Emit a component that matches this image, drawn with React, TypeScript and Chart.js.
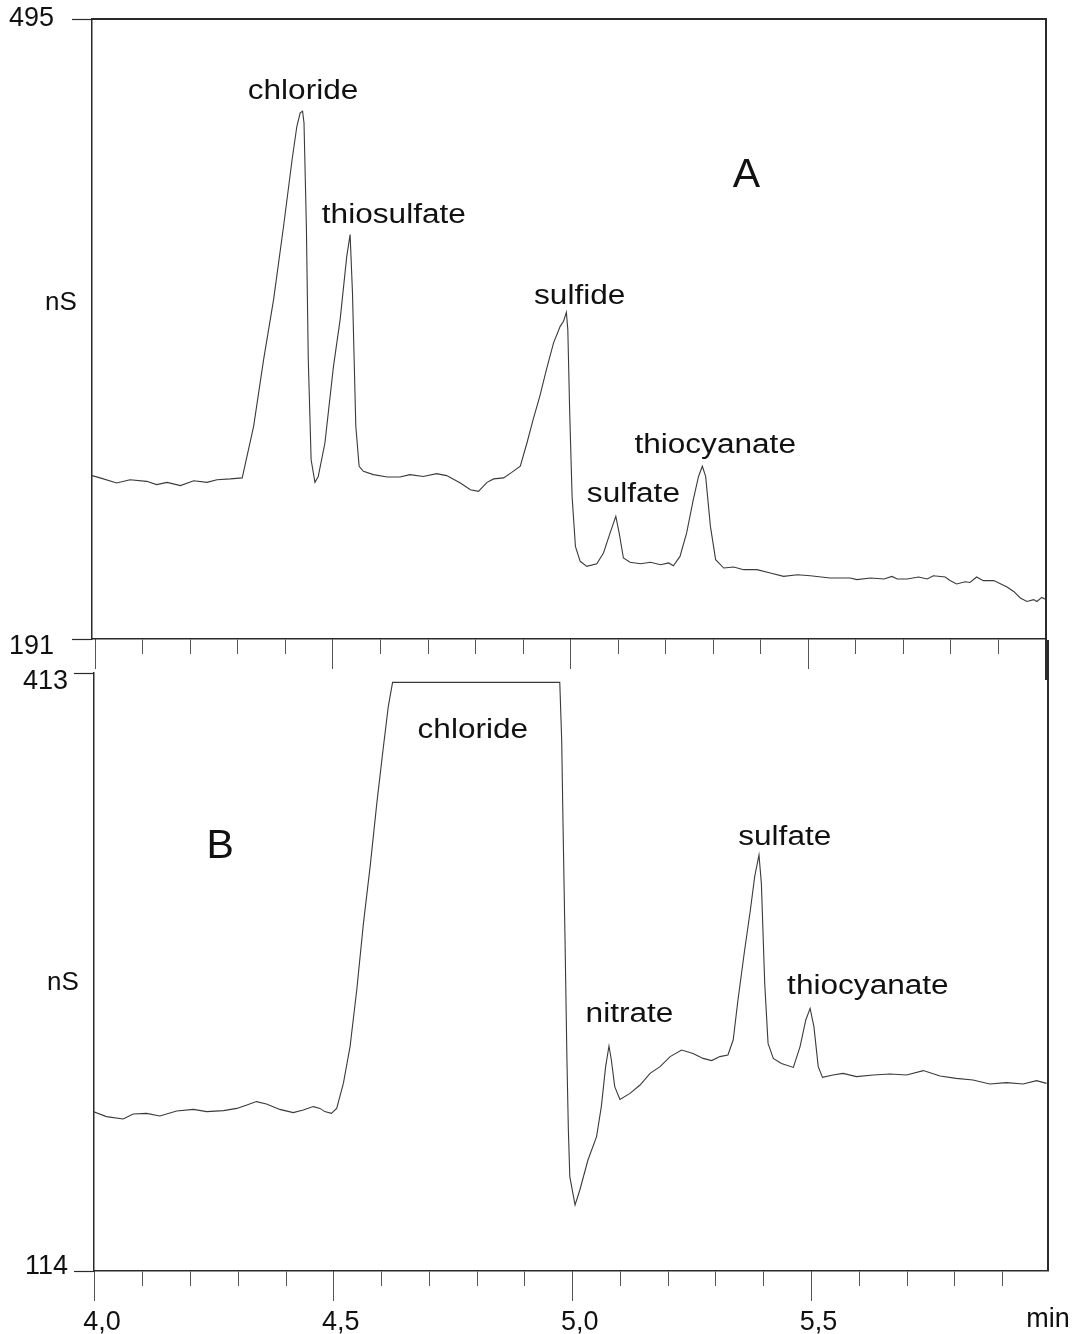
import React, { useEffect, useRef } from "react";
import { Chart, registerables } from "chart.js";

Chart.register(...registerables);

// ---------------- data ----------------
// Panel A: retention time (min) and conductivity (nS)
const timeA = [
  3.993, 4.010, 4.045, 4.073, 4.108, 4.129, 4.151, 4.179, 4.207, 4.235,
  4.256, 4.284, 4.309, 4.333, 4.354, 4.375, 4.396, 4.414, 4.424, 4.431,
  4.436, 4.439, 4.444, 4.448, 4.454, 4.462, 4.469, 4.483, 4.501, 4.515,
  4.529, 4.536, 4.541, 4.548, 4.555, 4.564, 4.585, 4.614, 4.641, 4.662,
  4.690, 4.718, 4.739, 4.768, 4.789, 4.806, 4.824, 4.838, 4.859, 4.876,
  4.894, 4.908, 4.921, 4.935, 4.949, 4.964, 4.978, 4.985, 4.991, 4.994,
  4.998, 5.003, 5.010, 5.020, 5.034, 5.055, 5.069, 5.083, 5.095, 5.102,
  5.111, 5.125, 5.147, 5.168, 5.189, 5.206, 5.216, 5.230, 5.244, 5.258,
  5.269, 5.277, 5.284, 5.294, 5.305, 5.322, 5.343, 5.364, 5.392, 5.420,
  5.448, 5.477, 5.504, 5.546, 5.588, 5.602, 5.631, 5.659, 5.676, 5.687,
  5.708, 5.732, 5.750, 5.763, 5.788, 5.798, 5.812, 5.830, 5.840, 5.854,
  5.868, 5.890, 5.904, 5.918, 5.932, 5.946, 5.960, 5.974, 5.981, 5.991,
  5.998,
];
const signalA = [
  271.1, 270.0, 267.5, 269.1, 268.3, 266.7, 267.8, 266.2, 268.6, 267.8,
  269.1, 269.5, 270.0, 295.3, 328.0, 357.4, 393.4, 426.1, 442.4, 449.0,
  449.8, 444.1, 393.4, 328.0, 278.9, 267.8, 270.7, 287.1, 324.7, 347.6,
  378.7, 389.3, 360.7, 295.3, 275.7, 273.2, 271.6, 270.4, 270.4, 271.6,
  270.7, 272.1, 271.1, 267.5, 264.2, 263.4, 267.8, 269.5, 270.0, 272.7,
  275.7, 287.1, 298.6, 310.0, 323.1, 336.2, 344.3, 346.8, 351.2, 342.7,
  301.8, 260.9, 236.4, 229.1, 226.6, 227.9, 233.2, 243.0, 251.1, 243.0,
  230.7, 228.6, 227.9, 228.6, 227.4, 228.3, 226.9, 231.5, 243.0, 259.3,
  270.7, 275.7, 270.7, 246.2, 229.9, 225.8, 226.3, 225.0, 225.0, 223.4,
  221.7, 222.5, 222.0, 220.9, 220.9, 220.1, 220.9, 220.4, 221.7, 220.4,
  220.4, 221.4, 220.4, 222.0, 221.4, 219.7, 218.0, 219.1, 218.7, 221.4,
  219.6, 219.7, 218.1, 216.5, 214.3, 211.1, 209.4, 210.3, 209.4, 211.4,
  210.6,
];

// Panel B
const timeB = [
  3.996, 4.024, 4.059, 4.080, 4.108, 4.136, 4.171, 4.206, 4.234, 4.269,
  4.297, 4.318, 4.338, 4.359, 4.387, 4.415, 4.436, 4.457, 4.471, 4.481,
  4.495, 4.506, 4.520, 4.534, 4.548, 4.562, 4.576, 4.590, 4.603, 4.614,
  4.623, 4.973, 4.977, 4.980, 4.984, 4.988, 4.991, 4.994, 5.005, 5.015,
  5.032, 5.050, 5.060, 5.069, 5.076, 5.081, 5.088, 5.099, 5.120, 5.141,
  5.162, 5.183, 5.204, 5.228, 5.252, 5.273, 5.291, 5.308, 5.325, 5.336,
  5.346, 5.360, 5.372, 5.381, 5.390, 5.395, 5.402, 5.409, 5.420, 5.437,
  5.462, 5.476, 5.488, 5.497, 5.505, 5.514, 5.523, 5.545, 5.566, 5.594,
  5.629, 5.664, 5.699, 5.734, 5.769, 5.803, 5.838, 5.873, 5.908, 5.943,
  5.971, 5.992,
];
const signalB = [
  193.7, 191.2, 190.0, 192.5, 192.8, 191.5, 194.0, 194.8, 193.7, 194.2,
  195.3, 197.0, 198.7, 197.5, 194.8, 193.2, 194.5, 196.2, 195.3, 193.7,
  192.8, 195.3, 207.8, 226.2, 254.5, 287.8, 316.2, 347.8, 374.5, 396.2,
  408.3, 408.3, 379.5, 334.5, 279.5, 219.5, 184.5, 161.2, 147.0, 154.5,
  169.5, 181.2, 196.2, 216.2, 226.5, 219.5, 206.2, 199.8, 202.8, 207.0,
  212.8, 216.2, 221.2, 224.5, 222.8, 220.3, 219.2, 221.2, 222.0, 229.5,
  249.5, 274.5, 294.5, 311.2, 322.0, 307.8, 257.8, 227.8, 220.3, 217.8,
  215.8, 226.2, 239.5, 245.3, 236.2, 216.2, 210.8, 212.0, 212.8, 211.2,
  212.0, 212.5, 212.0, 214.2, 211.5, 210.3, 209.5, 207.5, 208.2, 207.5,
  209.2, 207.8,
];

// tick values
const minorTicks = [4.0, 4.1, 4.2, 4.3, 4.4, 4.5, 4.6, 4.7, 4.8, 4.9, 5.0, 5.1, 5.2, 5.3, 5.4, 5.5, 5.6, 5.7, 5.8, 5.9];
const majorTicks = [4.0, 4.5, 5.0, 5.5];
const yTicksA = [191, 495];
const yTicksB = [114, 413];

// peak names
const peakNamesA = ["chloride", "thiosulfate", "sulfide", "sulfate", "thiocyanate"];
const peakNamesB = ["chloride", "nitrate", "sulfate", "thiocyanate"];

// ---------------- styling / layout ----------------
const FONT = "'Liberation Sans', Arial, Helvetica, sans-serif";
const INK = "#111111";
const AXIS = "#2a2a2a";
const TRACE = "#3a3a3a";
const TICK = "#555555";

type Ann = { text: string; t: number; v: number };

const labelsA: Ann[] = [
  { text: peakNamesA[0], t: 4.437, v: 455.9 },
  { text: peakNamesA[1], t: 4.628, v: 395.0 },
  { text: peakNamesA[2], t: 5.019, v: 355.5 },
  { text: peakNamesA[3], t: 5.132, v: 258.0 },
  { text: peakNamesA[4], t: 5.304, v: 282.4 },
];
const labelsB: Ann[] = [
  { text: peakNamesB[0], t: 4.791, v: 380.3 },
  { text: peakNamesB[1], t: 5.119, v: 238.3 },
  { text: peakNamesB[2], t: 5.444, v: 327.0 },
  { text: peakNamesB[3], t: 5.618, v: 252.5 },
];

type PanelSpec = {
  times: number[];
  values: number[];
  xMin: number;
  xMax: number;
  yMin: number;
  yMax: number;
  yTicks: number[];
  yShift: Record<number, number>;
  yPad: number;
  leftWidth: number;
  padTop: number;
  padRight: number;
  xHeight: number;
  showXLabels: boolean;
  labels: Ann[];
  panel: Ann;
  nsValue: number;
  frameTop: boolean;
  rightFromCanvasTop: boolean;
  rightToCanvasBottom: boolean;
  unitLabel: boolean;
};

function drawText(
  ctx: CanvasRenderingContext2D,
  text: string,
  x: number,
  y: number,
  font: string,
  stretch: number
) {
  ctx.save();
  ctx.font = font;
  ctx.textAlign = "center";
  ctx.textBaseline = "alphabetic";
  ctx.fillStyle = INK;
  ctx.translate(x, y);
  ctx.scale(stretch, 1);
  ctx.fillText(text, 0, 0);
  ctx.restore();
}

function buildConfig(p: PanelSpec): any {
  const overlay = {
    id: "overlay",
    afterDraw(chart: any) {
      const { ctx, chartArea } = chart;
      const xs = chart.scales.x;
      const ys = chart.scales.y;
      ctx.save();
      ctx.strokeStyle = AXIS;
      ctx.lineWidth = 2;
      ctx.beginPath();
      if (p.frameTop) {
        ctx.moveTo(chartArea.left, chartArea.top);
        ctx.lineTo(chartArea.right, chartArea.top);
      }
      ctx.moveTo(chartArea.right, p.rightFromCanvasTop ? 0 : chartArea.top - 1);
      ctx.lineTo(chartArea.right, p.rightToCanvasBottom ? chart.height : chartArea.bottom);
      ctx.stroke();
      ctx.restore();

      p.labels.forEach((a) => {
        drawText(ctx, a.text, xs.getPixelForValue(a.t), ys.getPixelForValue(a.v), `27px ${FONT}`, 1.17);
      });
      drawText(ctx, p.panel.text, xs.getPixelForValue(p.panel.t), ys.getPixelForValue(p.panel.v), `41px ${FONT}`, 1);
      drawText(ctx, "nS", chartArea.left - 31, ys.getPixelForValue(p.nsValue), `26px ${FONT}`, 1);
      if (p.unitLabel) {
        drawText(ctx, "min", chartArea.right, chartArea.bottom + 56, `27px ${FONT}`, 1);
      }
    },
  };

  return {
    type: "line",
    data: {
      datasets: [
        {
          data: p.times.map((t, i) => ({ x: t, y: p.values[i] })),
          borderColor: TRACE,
          borderWidth: 1.1,
          pointRadius: 0,
          tension: 0,
          fill: false,
        },
      ],
    },
    options: {
      animation: false,
      responsive: false,
      devicePixelRatio: 1,
      events: [],
      layout: { padding: { top: p.padTop, right: p.padRight, left: 0, bottom: 0 } },
      plugins: { legend: { display: false }, tooltip: { enabled: false } },
      scales: {
        x: {
          type: "linear",
          position: "bottom",
          weight: 0,
          min: p.xMin,
          max: p.xMax,
          afterBuildTicks: (s: any) => {
            s.ticks = minorTicks.map((v) => ({ value: v }));
          },
          afterFit: (s: any) => {
            s.height = 0;
            s.paddingLeft = 0;
            s.paddingRight = 0;
          },
          ticks: { display: false },
          grid: { drawOnChartArea: false, drawTicks: true, tickLength: 15, tickColor: TICK, tickWidth: 1 },
          border: { display: true, color: AXIS, width: 1.5 },
        },
        xMajor: {
          type: "linear",
          position: "bottom",
          weight: 1,
          min: p.xMin,
          max: p.xMax,
          afterBuildTicks: (s: any) => {
            s.ticks = majorTicks.map((v) => ({ value: v }));
          },
          afterFit: (s: any) => {
            s.height = p.xHeight;
            s.paddingLeft = 0;
            s.paddingRight = 0;
          },
          ticks: {
            display: p.showXLabels,
            autoSkip: false,
            maxRotation: 0,
            minRotation: 0,
            padding: 5,
            labelOffset: 7,
            color: INK,
            font: { family: FONT, size: 27 },
            callback: (v: number) => Number(v).toFixed(1).replace(".", ","),
          },
          grid: { drawOnChartArea: false, drawTicks: true, tickLength: 30, tickColor: TICK, tickWidth: 1 },
          border: { display: false },
        },
        y: {
          type: "linear",
          position: "left",
          min: p.yMin,
          max: p.yMax,
          afterBuildTicks: (s: any) => {
            s.ticks = p.yTicks.map((v) => ({ value: v }));
          },
          afterFit: (s: any) => {
            s.width = p.leftWidth;
            s.paddingTop = 0;
            s.paddingBottom = 0;
          },
          ticks: {
            padding: p.yPad,
            color: INK,
            font: (c: any) => {
              const v = c && c.tick ? c.tick.value : undefined;
              const sh = v !== undefined ? p.yShift[v] : undefined;
              return { family: FONT, size: 27, lineHeight: sh ? `${Math.abs(sh) * 2}px` : 1.2 };
            },
            callback: (v: number) => {
              const sh = p.yShift[v];
              if (!sh) return String(v);
              return sh > 0 ? ["", String(v)] : [String(v), ""];
            },
          },
          grid: { drawOnChartArea: false, drawTicks: true, tickLength: 20, tickColor: AXIS, tickWidth: 1.2 },
          border: { display: true, color: AXIS, width: 1.5 },
        },
      },
    },
    plugins: [overlay],
  };
}

const specA: PanelSpec = {
  times: timeA,
  values: signalA,
  xMin: 3.993,
  xMax: 6.0,
  yMin: 191,
  yMax: 495,
  yTicks: yTicksA,
  yShift: { 191: 8 },
  yPad: 18,
  leftWidth: 92,
  padTop: 19,
  padRight: 30,
  xHeight: 41,
  showXLabels: false,
  labels: labelsA,
  panel: { text: "A", t: 5.37, v: 412.4 },
  nsValue: 352.5,
  frameTop: true,
  rightFromCanvasTop: false,
  rightToCanvasBottom: true,
  unitLabel: false,
};

const specB: PanelSpec = {
  times: timeB,
  values: signalB,
  xMin: 3.998,
  xMax: 5.995,
  yMin: 114,
  yMax: 413,
  yTicks: yTicksB,
  yShift: { 413: 9, 114: -4 },
  yPad: 6,
  leftWidth: 94,
  padTop: 33,
  padRight: 28,
  xHeight: 63,
  showXLabels: true,
  labels: labelsB,
  panel: { text: "B", t: 4.262, v: 320.5 },
  nsValue: 254.5,
  frameTop: false,
  rightFromCanvasTop: true,
  rightToCanvasBottom: false,
  unitLabel: true,
};

export default function App() {
  const refA = useRef<HTMLCanvasElement | null>(null);
  const refB = useRef<HTMLCanvasElement | null>(null);

  useEffect(() => {
    const a = new Chart(refA.current as HTMLCanvasElement, buildConfig(specA));
    const b = new Chart(refB.current as HTMLCanvasElement, buildConfig(specB));
    return () => {
      a.destroy();
      b.destroy();
    };
  }, []);

  return (
    <div style={{ position: "absolute", left: 0, top: 0, width: 1076, height: 1334, background: "#ffffff" }}>
      <canvas
        ref={refA}
        width={1076}
        height={680}
        style={{ position: "absolute", left: 0, top: 0, width: 1076, height: 680 }}
      />
      <canvas
        ref={refB}
        width={1076}
        height={694}
        style={{ position: "absolute", left: 0, top: 640, width: 1076, height: 694 }}
      />
    </div>
  );
}
